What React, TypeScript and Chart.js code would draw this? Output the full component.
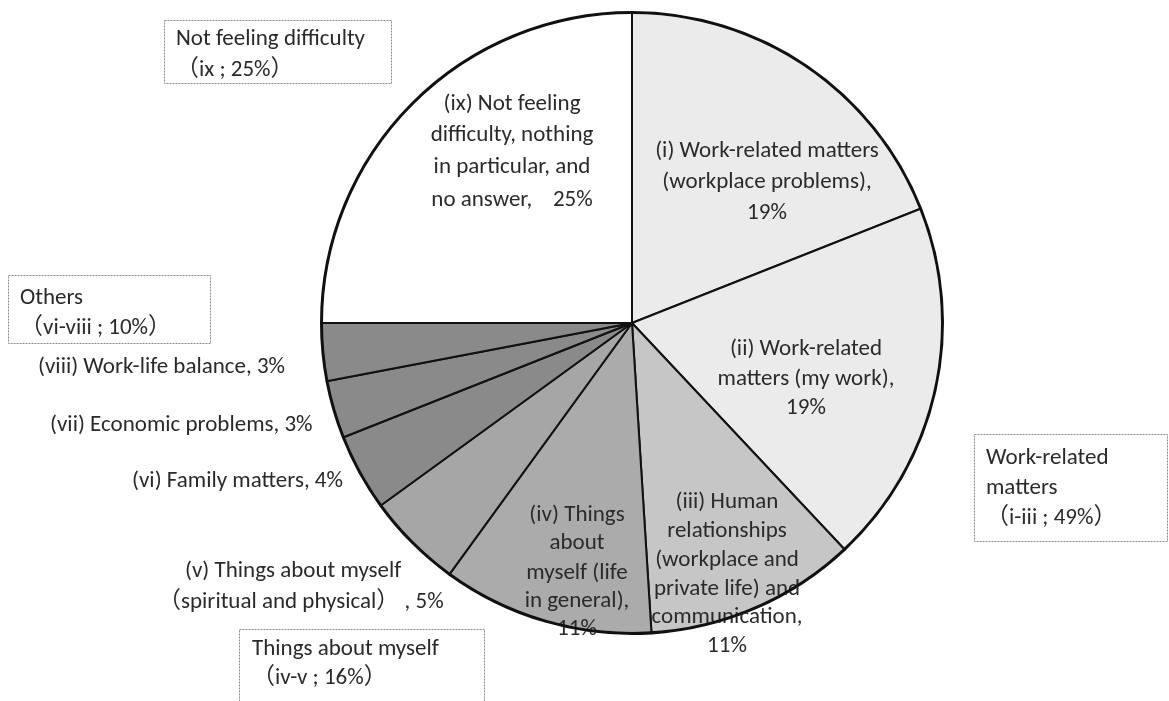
import React, { useEffect, useRef } from "react";
import { Chart, registerables } from "chart.js";

Chart.register(...registerables);

const categories = [
  "(i) Work-related matters (workplace problems)",
  "(ii) Work-related matters (my work)",
  "(iii) Human relationships (workplace and private life) and communication",
  "(iv) Things about myself (life in general)",
  "(v) Things about myself (spiritual and physical)",
  "(vi) Family matters",
  "(vii) Economic problems",
  "(viii) Work-life balance",
  "(ix) Not feeling difficulty, nothing in particular, and no answer",
];
const values = [19, 19, 11, 11, 5, 4, 3, 3, 25];
const sliceColors = [
  "#ebebeb", "#ebebeb", "#c6c6c6", "#ababab", "#a6a6a6",
  "#8a8a8a", "#8a8a8a", "#8a8a8a", "#ffffff",
];

const insideLabelLines = [
  ["(i) Work-related matters", "(workplace problems),", "19%"],
  ["(ii) Work-related", "matters (my work),", "19%"],
  ["(iii) Human", "relationships", "(workplace and", "private life) and", "communication,", "11%"],
  ["(iv) Things", "about", "myself (life", "in general),", "11%"],
  ["(ix) Not feeling", "difficulty, nothing", "in particular, and", "no answer,    25%"],
];
const outsideLabelLines = [
  ["(v) Things about myself", "（spiritual and physical） , 5%"],
  ["(vi) Family matters, 4%"],
  ["(vii) Economic problems, 3%"],
  ["(viii) Work-life balance, 3%"],
];
const groupBoxLines = [
  ["Not feeling difficulty", "（ix ; 25%）"],
  ["Others", "（vi-viii ; 10%）"],
  ["Things about myself", "（iv-v ; 16%）"],
  ["Work-related", "matters", "（i-iii ; 49%）"],
];

// layout (positions of text blocks)
const insideLayout = [
  { x: 767, ys: [151, 182, 213] },
  { x: 806, ys: [349, 379, 408] },
  { x: 727, ys: [502, 531, 560, 589, 617, 646] },
  { x: 577, ys: [515, 543, 573, 601, 629] },
  { x: 512, ys: [104, 135, 167, 200] },
];
const outsideLayout = [
  { xs: [185, 158], ys: [571, 602] },
  { xs: [132], ys: [481] },
  { xs: [50], ys: [425] },
  { xs: [38], ys: [367] },
];
const boxLayout = [
  { x0: 164, y0: 20, x1: 391, y1: 83, tx: 176, ys: [39, 70] },
  { x0: 8, y0: 275, x1: 210, y1: 343, tx: 20, ys: [298, 328] },
  { x0: 239, y0: 629, x1: 484, y1: 705, tx: 252, ys: [649, 678] },
  { x0: 974, y0: 434, x1: 1167, y1: 541, tx: 986, ys: [458, 488, 518] },
];

const FONT = '23px Carlito, Lato, "Noto Sans CJK JP", sans-serif';
const TEXT_COLOR = "#2a2a2a";

const labelPlugin = {
  id: "labelPlugin",
  afterDraw(chart: any) {
    const ctx = chart.ctx as CanvasRenderingContext2D;
    ctx.save();
    ctx.font = FONT;
    ctx.fillStyle = TEXT_COLOR;
    ctx.textBaseline = "middle";

    ctx.textAlign = "center";
    insideLabelLines.forEach((lines, i) => {
      const L = insideLayout[i];
      lines.forEach((t, j) => ctx.fillText(t, L.x, L.ys[j]));
    });

    ctx.textAlign = "left";
    outsideLabelLines.forEach((lines, i) => {
      const L = outsideLayout[i];
      lines.forEach((t, j) => ctx.fillText(t, L.xs[j], L.ys[j]));
    });

    // redraw the outer circle over text (as in reference)
    const meta = chart.getDatasetMeta(0);
    const arc = meta.data[0] as any;
    if (arc) {
      ctx.beginPath();
      ctx.strokeStyle = "#111";
      ctx.lineWidth = 2;
      ctx.arc(arc.x, arc.y, arc.outerRadius - 1, 0, Math.PI * 2);
      ctx.stroke();
    }

    // group boxes
    groupBoxLines.forEach((lines, i) => {
      const B = boxLayout[i];
      ctx.save();
      ctx.fillStyle = "#ffffff";
      ctx.fillRect(B.x0, B.y0, B.x1 - B.x0, B.y1 - B.y0);
      ctx.strokeStyle = "#8c8c8c";
      ctx.lineWidth = 1;
      ctx.setLineDash([2, 1]);
      ctx.strokeRect(B.x0 + 0.5, B.y0 + 0.5, B.x1 - B.x0, B.y1 - B.y0);
      ctx.restore();
      ctx.fillStyle = TEXT_COLOR;
      ctx.font = FONT;
      ctx.textAlign = "left";
      ctx.textBaseline = "middle";
      lines.forEach((t, j) => ctx.fillText(t, B.tx, B.ys[j]));
    });
    ctx.restore();
  },
};

export default function App() {
  const ref = useRef<HTMLCanvasElement>(null);
  useEffect(() => {
    if (!ref.current) return;
    const chart = new Chart(ref.current, {
      type: "pie",
      data: {
        labels: categories,
        datasets: [
          {
            data: values,
            backgroundColor: sliceColors,
            borderColor: "#111111",
            borderWidth: 2,
          },
        ],
      },
      options: {
        animation: false,
        responsive: true,
        maintainAspectRatio: false,
        layout: { padding: { left: 320, right: 225, top: 11, bottom: 66 } },
        plugins: {
          legend: { display: false },
          tooltip: { enabled: false },
        },
      },
      plugins: [labelPlugin],
    });
    return () => chart.destroy();
  }, []);
  return (
    <div style={{ position: "absolute", left: 0, top: 0, width: 1169, height: 701, background: "#fff" }}>
      <canvas ref={ref} />
    </div>
  );
}
